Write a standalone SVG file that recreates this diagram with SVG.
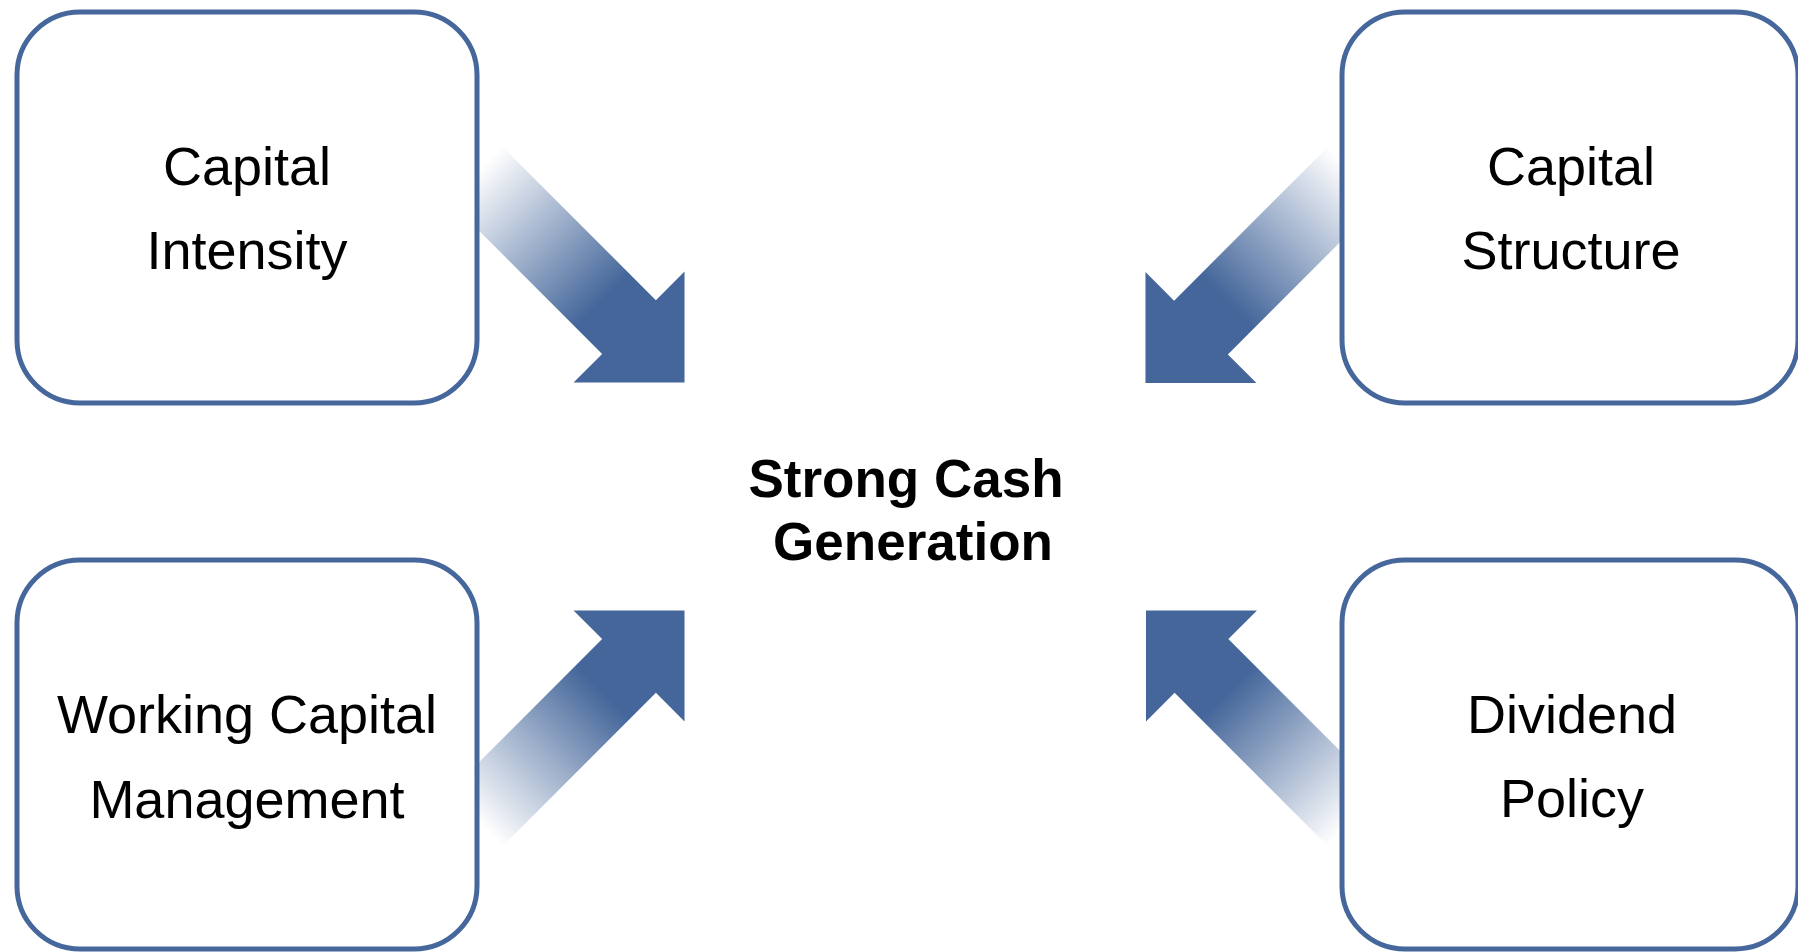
<svg xmlns="http://www.w3.org/2000/svg" width="1798" height="952" viewBox="0 0 1798 952">
  <style>
    .box { fill: #ffffff; stroke: #46679B; stroke-width: 5; }
    .lbl { font-family: "Liberation Sans", Arial, sans-serif; font-size: 54px; fill: #000000; text-anchor: middle; }
    .ctr { font-family: "Liberation Sans", Arial, sans-serif; font-size: 53px; font-weight: bold; fill: #000000; text-anchor: middle; }
    .arrow { fill: url(#fade); }
  </style>
  <defs>
    <linearGradient id="fade" gradientUnits="userSpaceOnUse" x1="10" y1="0" x2="190" y2="0">
      <stop offset="0" stop-color="#ffffff"/>
      <stop offset="1" stop-color="#44669A"/>
    </linearGradient>
    <path id="arrowShape" d="M0,-38 L227,-38 L227,-78.5 L305.5,0 L227,78.5 L227,38 L0,38 Z"/>
  </defs>
  <rect width="1798" height="952" fill="#ffffff"/>
  <g id="connectors">
    <use href="#arrowShape" class="arrow" transform="translate(468.5,166.5) rotate(45)"/>
    <use href="#arrowShape" class="arrow" transform="translate(1361.5,167) rotate(135)"/>
    <use href="#arrowShape" class="arrow" transform="translate(468.5,826.5) rotate(-45)"/>
    <use href="#arrowShape" class="arrow" transform="translate(1362,826.5) rotate(-135)"/>
  </g>
  <g id="node-capital-intensity">
    <rect class="box" x="17" y="12" width="460" height="391" rx="63" ry="63"/>
    <text class="lbl" x="247" y="185">Capital</text>
    <text class="lbl" x="247" y="269">Intensity</text>
  </g>
  <g id="node-capital-structure">
    <rect class="box" x="1342" y="12" width="456" height="391" rx="63" ry="63"/>
    <text class="lbl" x="1571" y="185">Capital</text>
    <text class="lbl" x="1571" y="269">Structure</text>
  </g>
  <g id="node-working-capital">
    <rect class="box" x="17" y="560" width="460" height="389" rx="63" ry="63"/>
    <text class="lbl" x="247" y="733">Working Capital</text>
    <text class="lbl" x="247" y="818">Management</text>
  </g>
  <g id="node-dividend-policy">
    <rect class="box" x="1342" y="560" width="456" height="389" rx="63" ry="63"/>
    <text class="lbl" x="1572" y="733">Dividend</text>
    <text class="lbl" x="1572" y="817">Policy</text>
  </g>
  <g id="node-center">
    <text class="ctr" x="906" y="497">Strong Cash</text>
    <text class="ctr" x="913" y="560">Generation</text>
  </g>
</svg>
